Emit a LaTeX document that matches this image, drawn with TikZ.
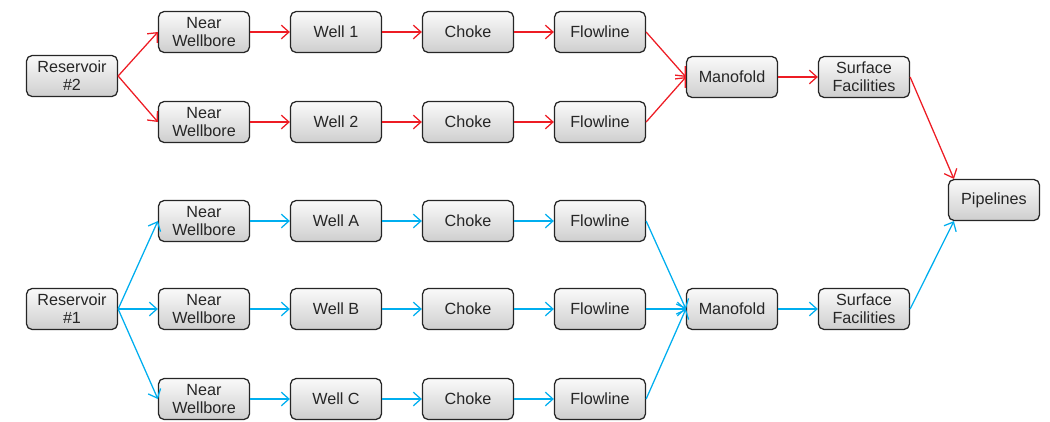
\documentclass[tikz,border=0pt]{standalone}
\usepackage{fontspec}
\setmainfont{Liberation Sans}
\usetikzlibrary{arrows.meta}
\definecolor{flowred}{RGB}{237,28,36}
\definecolor{flowblue}{RGB}{0,174,239}
\tikzset{
  box/.style={draw=black!85, line width=0.9pt, rounded corners=4pt,
    top color=gray!4, bottom color=gray!38, minimum width=2.275cm,
    minimum height=1.025cm, inner sep=2pt, align=center,
    font=\fontsize{11.5}{12.8}\selectfont, text=black!85},
  redarr/.style={draw=flowred, line width=0.9pt,
    -{Straight Barb[length=1.9mm,width=3.4mm,line width=0.9pt]}},
  bluearr/.style={draw=flowblue, line width=0.9pt,
    -{Straight Barb[length=1.9mm,width=3.4mm,line width=0.9pt]}}
}
\begin{document}
\begin{tikzpicture}
\useasboundingbox (0,0) rectangle (26.25,-10.525);

\node[box] (res2) at (1.8,-1.9) {Reservoir\\\#2};
\node[box] (nw1) at (5.1,-0.8) {Near\\Wellbore};
\node[box] (well1) at (8.4,-0.8) {Well 1};
\node[box] (choke1) at (11.7,-0.8) {Choke};
\node[box] (flow1) at (15.0,-0.8) {Flowline};
\node[box] (nw2) at (5.1,-3.05) {Near\\Wellbore};
\node[box] (well2) at (8.4,-3.05) {Well 2};
\node[box] (choke2) at (11.7,-3.05) {Choke};
\node[box] (flow2) at (15.0,-3.05) {Flowline};
\node[box] (mani2) at (18.3,-1.925) {Manofold};
\node[box] (surf2) at (21.6,-1.925) {Surface\\Facilities};

\node[box] (pipe) at (24.85,-5.0) {Pipelines};

\node[box] (res1) at (1.8,-7.725) {Reservoir\\\#1};
\node[box] (nwa) at (5.1,-5.525) {Near\\Wellbore};
\node[box] (wella) at (8.4,-5.525) {Well A};
\node[box] (chokea) at (11.7,-5.525) {Choke};
\node[box] (flowa) at (15.0,-5.525) {Flowline};
\node[box] (nwb) at (5.1,-7.725) {Near\\Wellbore};
\node[box] (wellb) at (8.4,-7.725) {Well B};
\node[box] (chokeb) at (11.7,-7.725) {Choke};
\node[box] (flowb) at (15.0,-7.725) {Flowline};
\node[box] (nwc) at (5.1,-9.975) {Near\\Wellbore};
\node[box] (wellc) at (8.4,-9.975) {Well C};
\node[box] (chokec) at (11.7,-9.975) {Choke};
\node[box] (flowc) at (15.0,-9.975) {Flowline};
\node[box] (mani1) at (18.3,-7.725) {Manofold};
\node[box] (surf1) at (21.6,-7.725) {Surface\\Facilities};

% reservoir #2
\draw[redarr] (res2.east) -- (nw1.west);
\draw[redarr] (res2.east) -- (nw2.west);
\draw[redarr] (nw1) -- (well1);
\draw[redarr] (well1) -- (choke1);
\draw[redarr] (choke1) -- (flow1);
\draw[redarr] (nw2) -- (well2);
\draw[redarr] (well2) -- (choke2);
\draw[redarr] (choke2) -- (flow2);
\draw[redarr] (flow1.east) -- (mani2.west);
\draw[redarr] (flow2.east) -- (mani2.west);
\draw[redarr] (mani2) -- (surf2);
\draw[redarr] (surf2.east) -- ([xshift=0.15cm]pipe.north west);

% reservoir #1
\draw[bluearr] (res1.east) -- (nwa.west);
\draw[bluearr] (res1.east) -- (nwb.west);
\draw[bluearr] (res1.east) -- (nwc.west);
\draw[bluearr] (nwa) -- (wella);
\draw[bluearr] (wella) -- (chokea);
\draw[bluearr] (chokea) -- (flowa);
\draw[bluearr] (nwb) -- (wellb);
\draw[bluearr] (wellb) -- (chokeb);
\draw[bluearr] (chokeb) -- (flowb);
\draw[bluearr] (nwc) -- (wellc);
\draw[bluearr] (wellc) -- (chokec);
\draw[bluearr] (chokec) -- (flowc);
\draw[bluearr] (flowa.east) -- (mani1.west);
\draw[bluearr] (flowb.east) -- (mani1.west);
\draw[bluearr] (flowc.east) -- (mani1.west);
\draw[bluearr] (mani1) -- (surf1);
\draw[bluearr] (surf1.east) -- ([xshift=0.15cm]pipe.south west);
\end{tikzpicture}
\end{document}
